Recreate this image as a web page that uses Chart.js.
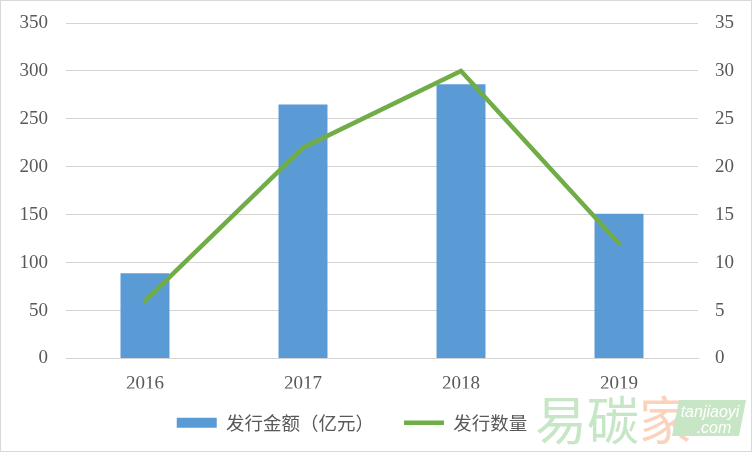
<!DOCTYPE html>
<html>
<head>
<meta charset="utf-8">
<script src="https://cdn.jsdelivr.net/npm/chart.js@4/dist/chart.umd.min.js"></script>
<style>
  html, body { margin: 0; padding: 0; background: #fff; }
  #wrap { width: 752px; height: 452px; position: relative; }
</style>
</head>
<body>
<div id="wrap"><canvas id="issueChart"></canvas></div>
<script>
const years = ['2016', '2017', '2018', '2019'];
const amountValues = [89, 265, 286, 151];   // 发行金额（亿元）
const countValues = [6, 22, 30, 12];        // 发行数量
const amountLabel = '发行金额（亿元）';
const countLabel = '发行数量';

const tickFont = { family: '"Liberation Serif", "Times New Roman", serif', size: 19 };
const cjkFont = { family: '"Noto Sans CJK SC", sans-serif', size: 18.5 };
const gridColor = '#d4d4d4';
const textColor = '#595959';

// 图例位置微调、边框、水印
const decorPlugin = {
  id: 'decor',
  afterLayout(chart) {
    chart.legend.left -= 24;
    chart.legend.right -= 24;
    chart.legend.top -= 5;
    chart.legend.bottom -= 5;
  },
  beforeDraw(chart) {
    const ctx = chart.ctx;
    ctx.save();
    ctx.fillStyle = '#fff';
    ctx.fillRect(0, 0, chart.width, chart.height);
    ctx.restore();
  },
  afterDraw(chart) {
    const ctx = chart.ctx;
    ctx.save();
    ctx.strokeStyle = '#d9d9d9';
    ctx.lineWidth = 1;
    ctx.strokeRect(0.5, 0.5, chart.width - 1, chart.height - 1);

    ctx.textBaseline = 'alphabetic';
    ctx.font = '52px "Noto Sans CJK SC", sans-serif';
    ctx.fillStyle = '#c6e6c6';
    ctx.fillText('易碳', 535, 440);
    ctx.fillStyle = '#fbd3bd';
    ctx.fillText('家', 639, 440);

    ctx.fillStyle = '#c6e6c6';
    ctx.beginPath();
    ctx.moveTo(679, 400);
    ctx.lineTo(746, 400);
    ctx.lineTo(739, 436);
    ctx.lineTo(672, 436);
    ctx.closePath();
    ctx.fill();
    ctx.fillStyle = '#fff';
    ctx.font = 'italic 16px "Liberation Sans", sans-serif';
    ctx.textAlign = 'center';
    ctx.fillText('tanjiaoyi', 710, 417);
    ctx.fillText('.com', 714, 433);
    ctx.restore();
  }
};

function fixYAxis(width) {
  return function (scale) {
    scale.width = width;
    scale.paddingTop = 0;
    scale.paddingBottom = 0;
  };
}

new Chart(document.getElementById('issueChart'), {
  data: {
    labels: years,
    datasets: [
      {
        type: 'line',
        label: countLabel,
        data: countValues,
        yAxisID: 'y1',
        borderColor: '#70ad47',
        backgroundColor: '#70ad47',
        borderWidth: 4.5,
        borderCapStyle: 'round',
        pointRadius: 0,
        tension: 0,
        order: 0
      },
      {
        type: 'bar',
        label: amountLabel,
        data: amountValues,
        yAxisID: 'y',
        backgroundColor: '#5b9bd5',
        barPercentage: 0.31,
        categoryPercentage: 1,
        order: 1
      }
    ]
  },
  plugins: [decorPlugin],
  options: {
    responsive: true,
    maintainAspectRatio: false,
    animation: false,
    layout: { padding: { top: 23, bottom: 5, left: 0, right: 0 } },
    plugins: {
      tooltip: { enabled: false },
      legend: {
        position: 'bottom',
        labels: {
          font: cjkFont,
          color: textColor,
          usePointStyle: true,
          pointStyleWidth: 40,
          boxHeight: 10,
          padding: 30,
          generateLabels(chart) {
            return [
              { text: amountLabel, fillStyle: '#5b9bd5', strokeStyle: '#5b9bd5', lineWidth: 0, pointStyle: 'rect', datasetIndex: 1, fontColor: textColor },
              { text: countLabel, fillStyle: '#70ad47', strokeStyle: '#70ad47', lineWidth: 4.5, pointStyle: 'line', datasetIndex: 0, fontColor: textColor }
            ];
          }
        }
      }
    },
    scales: {
      x: {
        grid: { display: false },
        border: { display: true, color: gridColor, width: 1 },
        ticks: { font: tickFont, color: textColor, padding: 6 },
        afterFit(scale) { scale.height = 30; }
      },
      y: {
        position: 'left',
        min: 0,
        max: 350,
        ticks: { stepSize: 50, font: tickFont, color: textColor, padding: 18 },
        grid: { color: gridColor, drawTicks: false },
        border: { display: false },
        afterFit: fixYAxis(66)
      },
      y1: {
        position: 'right',
        min: 0,
        max: 35,
        ticks: { stepSize: 5, font: tickFont, color: textColor, padding: 17 },
        grid: { display: false, drawTicks: false },
        border: { display: false },
        afterFit: fixYAxis(54)
      }
    }
  }
});
</script>
</body>
</html>
